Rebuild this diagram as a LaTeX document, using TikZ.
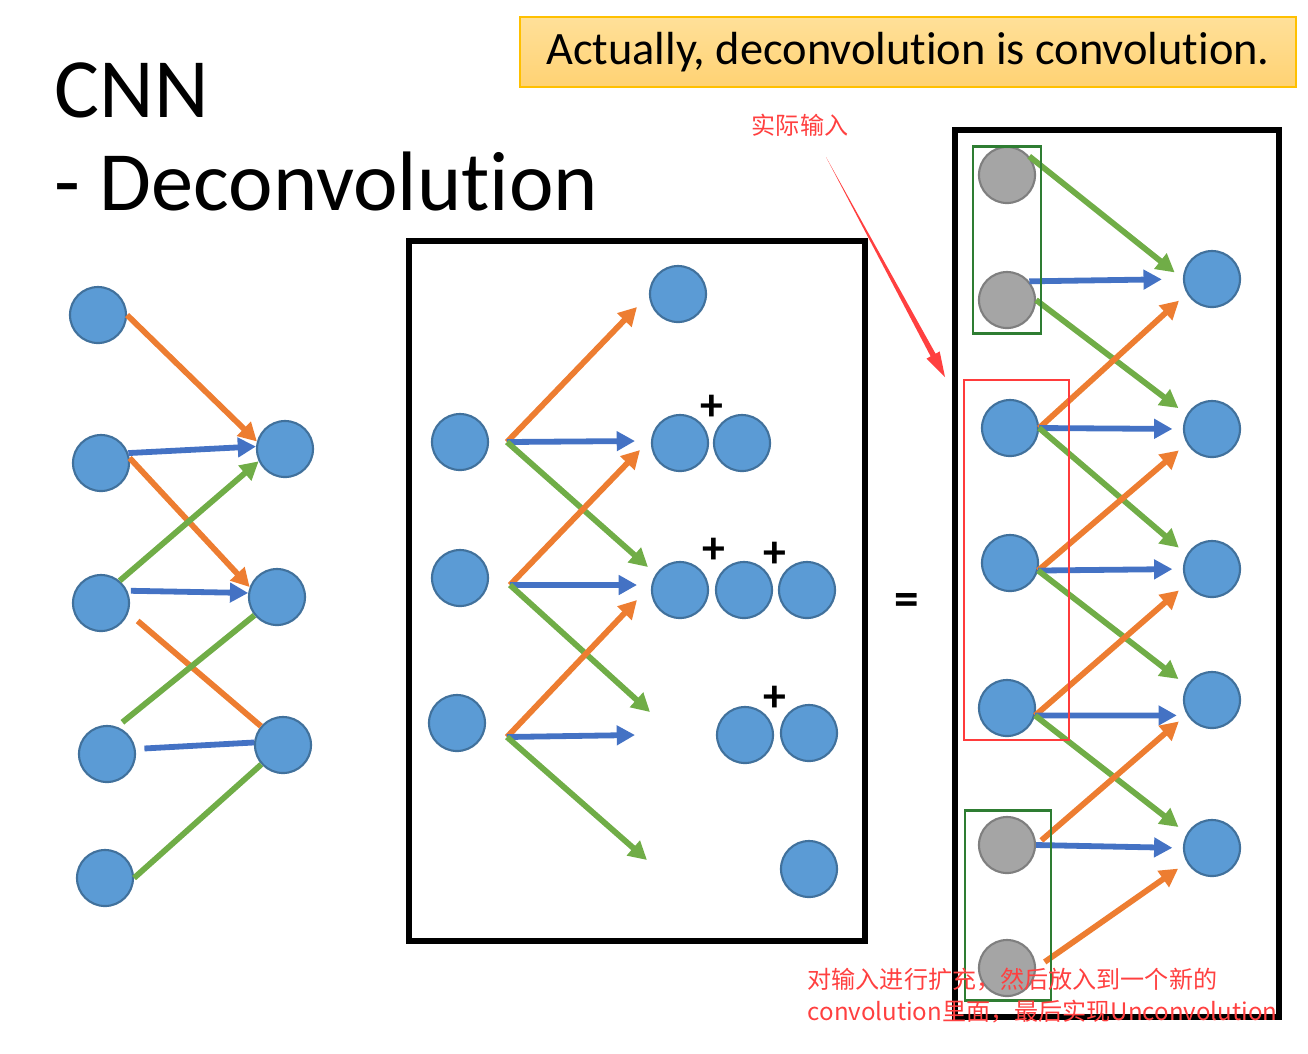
\documentclass[tikz,border=0pt]{standalone}
\usepackage{fontspec}
\setmainfont{Carlito}[Ligatures=CommonOff]
\newfontfamily\cjk{Noto Sans CJK SC}
\usetikzlibrary{arrows.meta,calc}

\definecolor{nodeblue}{RGB}{91,155,213}
\definecolor{nodeedge}{RGB}{65,113,156}
\definecolor{nodegray}{RGB}{165,165,165}
\definecolor{grayedge}{RGB}{127,127,127}
\definecolor{arrorange}{RGB}{237,125,49}
\definecolor{arrgreen}{RGB}{112,173,71}
\definecolor{arrblue}{RGB}{68,114,196}
\definecolor{notered}{RGB}{255,64,64}
\definecolor{boxgreen}{RGB}{46,125,50}
\definecolor{boxred}{RGB}{255,59,59}
\definecolor{bannertop}{RGB}{255,224,153}
\definecolor{bannerbot}{RGB}{255,210,115}
\definecolor{banneredge}{RGB}{255,192,0}

\begin{document}
\begin{tikzpicture}[x=0.01cm, y=-0.01cm,
	unit/.style={circle, fill=nodeblue, draw=nodeedge, line width=0.6pt, minimum size=0.56cm, inner sep=0pt},
	pad/.style={unit, fill=nodegray, draw=grayedge},
	wire/.style={line width=1.65pt},
	hd/.style={wire, -{Triangle[length=5.2pt,width=5.4pt]}},
	org/.style={arrorange}, grn/.style={arrgreen}, blu/.style={arrblue},
	frame/.style={line width=1.7pt, black},
	plus/.style={inner sep=0pt, font=\fontsize{13}{13}\selectfont\bfseries},
	redtext/.style={inner sep=0pt, text=notered, font=\cjk\fontsize{6.85}{6.85}\selectfont}]
	
	\useasboundingbox (0,0) rectangle (1308,1053);
	
	% Title and banner
	\node[anchor=base west, inner sep=0pt, font=\fontsize{24}{24}\selectfont] (cnn) at (54,117) {CNN};
	\node[anchor=base west, inner sep=0pt, font=\fontsize{24}{24}\selectfont] (decon) at (54,210) {- Deconvolution};
	\node[draw=banneredge, line width=0.6pt, top color=bannertop, bottom color=bannerbot,
		minimum width=7.76cm, minimum height=0.70cm, inner sep=0pt,
		font=\fontsize{13.2}{13.2}\selectfont] (banner) at (908,52) {Actually, deconvolution is convolution.};
	
	% Left: plain layer
	\node[unit] (l1) at (98,315) {};
	\node[unit] (l2) at (101,463) {};
	\node[unit] (l3) at (101,603) {};
	\node[unit] (l4) at (107,754) {};
	\node[unit] (l5) at (105,878) {};
	\node[unit] (r1) at (285,449) {};
	\node[unit] (r2) at (277,597) {};
	\node[unit] (r3) at (283,745) {};
	
	\draw[hd, org] (l1.east) -- (r1.165);
	\draw[hd, blu] (l2.20) -- (r1.175);
	\draw[hd, org] (l2.10) -- (r2.160);
	\draw[hd, grn] (l3.50) -- (r1.205);
	\draw[hd, blu, shorten <=1pt] (l3.25) -- (r2.172);
	\draw[wire, org, shorten <=3.5pt] (l3.-20) -- (r3);
	\draw[wire, grn, shorten <=2pt] (l4.70) -- (r2);
	\draw[wire, blu, shorten <=2.5pt] (l4.10) -- (r3.175);
	\draw[wire, grn] (l5.east) -- (r3);
	
	% Middle: each input spread on its own
	\draw[frame] (409,241) rectangle (865,941);
	
	\node[unit] (ma) at (460,442) {};
	\node[unit] (mb) at (460,578) {};
	\node[unit] (mc) at (457,723) {};
	\node[unit] (mt) at (678,294) {};
	\node[unit] (a1) at (680,443) {};
	\node[unit] (a2) at (742,443) {};
	\node[unit] (b1) at (680,590) {};
	\node[unit] (b2) at (744,590) {};
	\node[unit] (b3) at (807,590) {};
	\node[unit] (c1) at (745,735) {};
	\node[unit] (c2) at (809,733) {};
	\node[unit] (d1) at (809,869) {};
	
	\node[plus] (s1) at (712,408) {+};
	\node[plus] (s2) at (714,551) {+};
	\node[plus] (s3) at (775,555) {+};
	\node[plus] (s4) at (775,699) {+};
	
	\coordinate (fa) at (507,442);
	\coordinate (fb) at (510,585);
	\coordinate (fc) at (507,737);
	\coordinate (ea1) at (637,307);
	\coordinate (ea2) at (635,441);
	\coordinate (ea3) at (648,567);
	\coordinate (eb1) at (640,450);
	\coordinate (eb2) at (637,585);
	\coordinate (eb3) at (650,712);
	\coordinate (ec1) at (637,600);
	\coordinate (ec2) at (635,735);
	\coordinate (ec3) at (647,860);
	
	\draw[hd, org] (fa) -- (ea1);
	\draw[hd, blu] (fa) -- (ea2);
	\draw[hd, grn] (fa) -- (ea3);
	\draw[hd, org] (fb) -- (eb1);
	\draw[hd, blu] (fb) -- (eb2);
	\draw[hd, grn] (fb) -- (eb3);
	\draw[hd, org] (fc) -- (ec1);
	\draw[hd, blu] (fc) -- (ec2);
	\draw[hd, grn] (fc) -- (ec3);
	
	\node[inner sep=0pt, font=\fontsize{14}{14}\selectfont\bfseries] (eq) at (907,604) {=};
	
	% Right: padded input, then a normal convolution
	\draw[frame] (955,130) rectangle (1279,1017);
	
	\node[pad] (g1) at (1007,175) {};
	\node[pad] (g2) at (1007,300) {};
	\node[unit] (k1) at (1010,428) {};
	\node[unit] (k2) at (1010,563) {};
	\node[unit] (k3) at (1007,708) {};
	\node[pad] (g3) at (1007,845) {};
	\node[pad] (g4) at (1007,968) {};
	\node[unit] (o1) at (1212,279) {};
	\node[unit] (o2) at (1212,429) {};
	\node[unit] (o3) at (1212,569) {};
	\node[unit] (o4) at (1212,700) {};
	\node[unit] (o5) at (1212,848) {};
	
	\begin{scope}[shorten >=3pt]
		\draw[hd, grn] (g1.40) -- (o1.west);
		\draw[hd, blu, shorten >=6pt] (g2.40) -- (o1.west);
		\draw[hd, grn] (g2.east) -- (o2.150);
		\draw[hd, org] (k1.east) -- (o1.210);
		\draw[hd, blu] (k1.east) -- (o2.west);
		\draw[hd, grn] (k1.east) -- (o3.150);
		\draw[hd, org] (k2.-15) -- (o2.210);
		\draw[hd, blu] (k2.-15) -- (o3.west);
		\draw[hd, grn] (k2.-15) -- (o4.150);
		\draw[hd, org] (k3.-15) -- (o3.210);
		\draw[hd, blu] (k3.-15) -- (o4.212);
		\draw[hd, grn] (k3.-15) -- (o5.150);
		\draw[hd, org, shorten <=2pt] (g3.east) -- (o4.210);
		\draw[hd, blu] (g3.east) -- (o5.west);
		\draw[hd, org, shorten <=3pt] (g4.east) -- (o5.210);
	\end{scope}
	
	\draw[boxgreen, line width=0.85pt] (973,146) rectangle (1041,333);
	\draw[boxgreen, line width=0.85pt] (965,810) rectangle (1051,1000);
	\draw[boxred, line width=0.7pt] (964,380) rectangle (1069,740);
	
	% Red notes
	\node[redtext] (realin) at (800,125) {实际输入};
	\coordinate (tail) at (826,157);
	\coordinate (tip) at (945,377);
	\coordinate (base) at ($(tip)!0.25cm!(tail)$);
	\fill[notered] (tail) -- ($(base)!0.028cm!90:(tip)$) -- ($(base)!0.075cm!90:(tip)$) -- (tip)
		-- ($(base)!0.075cm!-90:(tip)$) -- ($(base)!0.028cm!-90:(tip)$) -- cycle;
	
	\node[redtext, anchor=base west] (line1) at (807,988) {对输入进行扩充，然后放入到一个新的};
	\node[redtext, anchor=base west] (line2) at (807,1020) {convolution里面，最后实现Unconvolution};
	
\end{tikzpicture}
\end{document}
